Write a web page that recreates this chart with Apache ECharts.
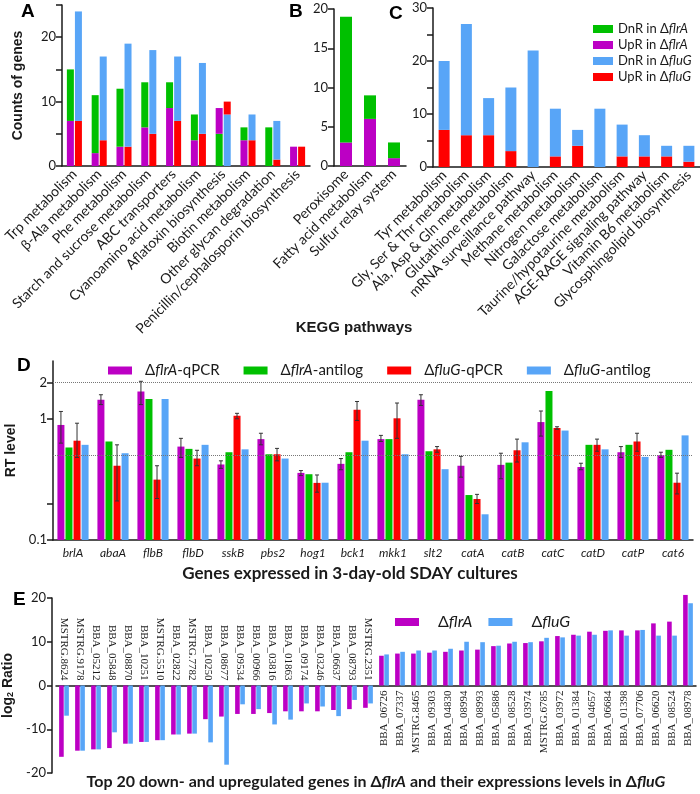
<!DOCTYPE html>
<html>
<head>
<meta charset="utf-8">
<script src="https://cdn.jsdelivr.net/npm/echarts@6/dist/echarts.min.js"></script>
<style>
  html, body { margin: 0; padding: 0; background: #fff; }
  #main { width: 700px; height: 794px; }
</style>
</head>
<body>
<div id="main"></div>
<script>
// ---- panel A: KEGG pathways shared by both mutants
const pathA = ['Trp metabolism', 'β-Ala metabolism', 'Phe metabolism', 'Starch and sucrose metabolism',
  'ABC transporters', 'Cyanoamino acid metabolism', 'Aflatoxin biosynthesis', 'Biotin metabolism',
  'Other glycan degradation', 'Penicillin/cephalosporin biosynthesis'];
const dnFlrA_A = [15, 11, 12, 13, 13, 8, 5, 6, 6, 0];
const upFlrA_A = [7, 2, 3, 6, 9, 4, 9, 4, 0, 3];
const dnFluG_A = [24, 17, 19, 18, 17, 16, 8, 8, 7, 0];
const upFluG_A = [7, 4, 3, 5, 7, 5, 10, 4, 1, 3];

// ---- panel B: flrA only
const pathB = ['Peroxisome', 'Fatty acid metabolism', 'Sulfur relay system'];
const dnFlrA_B = [19, 9, 3];
const upFlrA_B = [3, 6, 1];

// ---- panel C: fluG only
const pathC = ['Tyr metabolism', 'Gly, Ser & Thr metabolism', 'Ala, Asp & Gln metabolism',
  'Glutathione metabolism', 'mRNA surveillance pathway', 'Methane metabolism', 'Nitrogen metabolism',
  'Galactose metabolism', 'Taurine/hypotaurine metabolism', 'AGE-RAGE signaling pathway',
  'Vitamin B6 metabolism', 'Glycosphingolipid biosynthesis'];
const dnFluG_C = [20, 27, 13, 15, 22, 11, 7, 11, 8, 6, 4, 4];
const upFluG_C = [7, 6, 6, 3, 0, 2, 4, 0, 2, 2, 2, 1];

// ---- panel D: RT level (qPCR vs antilog of RNA-seq)
const genesD = ['brlA', 'abaA', 'flbB', 'flbD', 'sskB', 'pbs2', 'hog1', 'bck1', 'mkk1', 'slt2',
  'catA', 'catB', 'catC', 'catD', 'catP', 'cat6'];
const qFlrA = [0.89, 1.44, 1.68, 0.59, 0.42, 0.68, 0.358, 0.425, 0.68, 1.44, 0.41, 0.417, 0.94, 0.40, 0.53, 0.50];
const errFlrA = [[0.63, 1.15], [1.31, 1.58], [1.31, 2.04], [0.48, 0.69], [0.39, 0.45], [0.61, 0.76],
  [0.34, 0.374], [0.38, 0.47], [0.65, 0.73], [1.29, 1.58], [0.33, 0.49], [0.32, 0.52],
  [0.72, 1.16], [0.38, 0.43], [0.48, 0.59], [0.48, 0.53]];
const antiFlrA = [0.58, 0.65, 1.46, 0.565, 0.53, 0.51, 0.349, 0.53, 0.68, 0.54, 0.235, 0.435, 1.70, 0.61, 0.61, 0.555];
const qFluG = [0.66, 0.41, 0.315, 0.47, 1.06, 0.51, 0.296, 1.19, 1.01, 0.56, 0.218, 0.55, 0.84, 0.61, 0.65, 0.297];
const errFluG = [[0.48, 0.92], [0.21, 0.61], [0.22, 0.41], [0.41, 0.55], [1.0, 1.11], [0.45, 0.57],
  [0.248, 0.344], [0.97, 1.39], [0.69, 1.35], [0.53, 0.59], [0.2, 0.238], [0.44, 0.68],
  [0.82, 0.86], [0.54, 0.68], [0.54, 0.76], [0.24, 0.356]];
const antiFluG = [0.61, 0.52, 1.46, 0.61, 0.56, 0.47, 0.297, 0.66, 0.51, 0.384, 0.163, 0.64, 0.80, 0.56, 0.485, 0.73];
const refLines = [2, 0.5];

// ---- panel E: top 20 down- and upregulated genes
const genesE = ['MSTRG.8624', 'MSTRG.9178', 'BBA_05212', 'BBA_05848', 'BBA_08870', 'BBA_10251',
  'MSTRG.5510', 'BBA_02822', 'MSTRG.7782', 'BBA_10250', 'BBA_08677', 'BBA_09534', 'BBA_00966',
  'BBA_03816', 'BBA_01863', 'BBA_09174', 'BBA_03246', 'BBA_06637', 'BBA_08793', 'MSTRG.2351',
  'BBA_06726', 'BBA_07337', 'MSTRG.8465', 'BBA_09303', 'BBA_04830', 'BBA_08994', 'BBA_08993',
  'BBA_05886', 'BBA_08528', 'BBA_03974', 'MSTRG.6785', 'BBA_03972', 'BBA_01384', 'BBA_04657',
  'BBA_06684', 'BBA_01398', 'BBA_07706', 'BBA_06620', 'BBA_08524', 'BBA_08978'];
const ratioFlrA = [-16.3, -14.9, -14.6, -14.3, -13.3, -12.9, -12.5, -11.2, -11.0, -7.7, -7.1, -6.5, -6.5,
  -6.3, -5.9, -5.9, -5.9, -5.6, -5.4, -5.1,
  6.8, 7.3, 7.3, 7.5, 7.7, 8.0, 8.2, 9.0, 9.6, 9.7, 10.1, 11.3, 11.6, 12.3, 12.5, 12.6, 12.6, 14.2, 14.6, 20.7];
const ratioFluG = [-6.9, -14.9, -14.6, -10.7, -13.3, -12.9, -12.5, -11.2, -11.0, -13.0, -18.1, -4.3, -5.4,
  -8.9, -7.8, -4.1, -4.8, -7.0, -3.3, -4.1,
  7.1, 7.7, 8.0, 8.0, 8.4, 10.0, 9.9, 9.1, 10.0, 9.9, 10.9, 11.0, 11.4, 11.6, 12.6, 11.4, 12.7, 11.4, 11.4, 18.8];

const GREEN = '#00c000', PURPLE = '#bc00c4', BLUE = '#58a5f7', RED = '#ff0000';
const SANS = 'Lato', ARIAL = 'Liberation Sans', SERIF = 'Liberation Serif';
const INK = '#1a1a1a';

const nDnFlrA = 'DnR in ΔflrA', nUpFlrA = 'UpR in ΔflrA', nDnFluG = 'DnR in ΔfluG', nUpFluG = 'UpR in ΔfluG';

// bars are drawn overlapped, the shorter one in front -> stack the short part and the remainder
function overlap(dn, up, dnColor, upColor) {
  const low = [], high = [];
  dn.forEach(function(d, i) {
    const u = up[i];
    const dnFront = d < u;
    low.push({ value: Math.min(d, u), itemStyle: { color: dnFront ? dnColor : upColor } });
    high.push({ value: Math.abs(d - u), itemStyle: { color: dnFront ? upColor : dnColor } });
  });
  return [low, high];
}

const italic = function(name) { return name.replace(/(flrA|fluG)/, '{i|$1}'); };

function catAxis(grid, data, rotate) {
  return {
    type: 'category', gridIndex: grid, data: data,
    axisLine: { lineStyle: { color: INK, width: 1.5 } },
    axisTick: { alignWithLabel: true, length: 5, lineStyle: { color: INK, width: 1.5 } },
    axisLabel: { interval: 0, rotate: rotate, margin: 6, color: INK, fontFamily: SANS, fontSize: 14 }
  };
}
function valAxis(grid, max, labels, ticks) {
  return {
    type: 'value', gridIndex: grid, min: 0, max: max,
    axisLine: { show: true, lineStyle: { color: INK, width: 1.5 } },
    axisTick: { show: true, length: 6, customValues: ticks, lineStyle: { color: INK, width: 1.5 } },
    axisLabel: { customValues: labels, color: INK, fontFamily: SANS, fontSize: 13, margin: 6 },
    splitLine: { show: false }
  };
}
// gene names of panel E, written upright next to the zero line
function geneLabelAxis(grid, position, keep) {
  return {
    type: 'category', gridIndex: grid, data: genesE, position: position,
    axisLine: { show: false, onZero: false },
    axisTick: { show: false },
    axisLabel: {
      interval: 0, rotate: 90, margin: 5, color: INK, fontFamily: SERIF, fontSize: 11,
      formatter: function(v, i) { return keep(i) ? v : ''; }
    }
  };
}

const [aFlrLow, aFlrHigh] = overlap(dnFlrA_A, upFlrA_A, GREEN, PURPLE);
const [aFluLow, aFluHigh] = overlap(dnFluG_A, upFluG_A, BLUE, RED);
const [bLow, bHigh] = overlap(dnFlrA_B, upFlrA_B, GREEN, PURPLE);
const [cLow, cHigh] = overlap(dnFluG_C, upFluG_C, BLUE, RED);

// panel D bar geometry (px), used to place error bars on their bars
const BAR_D = 7, GAP_D = 1.05;
function errSeries(errs, slot, name) {
  const offset = (slot - 1.5) * (BAR_D + GAP_D);
  return {
    type: 'custom', name: name + ' SD', xAxisIndex: 3, yAxisIndex: 3, z: 5, silent: true,
    data: errs.map(function(e, i) { return [i, e[0], e[1]]; }),
    renderItem: function(params, api) {
      const lo = api.coord([api.value(0), api.value(1)]);
      const hi = api.coord([api.value(0), api.value(2)]);
      const x = lo[0] + offset;
      const st = { stroke: '#333', lineWidth: 1 };
      return {
        type: 'group', children: [
          { type: 'line', shape: { x1: x, y1: lo[1], x2: x, y2: hi[1] }, style: st },
          { type: 'line', shape: { x1: x - 2, y1: lo[1], x2: x + 2, y2: lo[1] }, style: st },
          { type: 'line', shape: { x1: x - 2, y1: hi[1], x2: x + 2, y2: hi[1] }, style: st }
        ]
      };
    }
  };
}

function dBar(name, data, color) {
  return { type: 'bar', name: name, xAxisIndex: 3, yAxisIndex: 3, data: data,
    barWidth: BAR_D, barGap: '15%', itemStyle: { color: color } };
}

const legendText = function(size, pad) {
  return {
    fontFamily: SANS, fontSize: size, color: INK, padding: [0, 0, 0, pad],
    rich: { i: { fontFamily: SANS, fontSize: size, fontStyle: 'italic', color: INK } }
  };
};

const E_TOP = 598, E_H = 175;

let myChart = echarts.init(document.getElementById('main'));
let option = {
  animation: false,
  backgroundColor: '#fff',
  grid: [
    { left: 62, top: 5, width: 248, height: 161, outerBoundsMode: 'none' },
    { left: 334, top: 9, width: 72, height: 157, outerBoundsMode: 'none' },
    { left: 433, top: 8, width: 267, height: 159, outerBoundsMode: 'none' },
    { left: 53, top: 361, width: 640, height: 179, outerBoundsMode: 'none' },
    { left: 56, top: E_TOP, width: 640, height: E_H, outerBoundsMode: 'none' },
    // halves of E split at the zero line: they only carry the gene names
    { left: 56, top: E_TOP + E_H / 2, width: 640, height: E_H / 2, outerBoundsMode: 'none' },
    { left: 56, top: E_TOP, width: 640, height: E_H / 2, outerBoundsMode: 'none' }
  ],
  legend: [
    {
      data: [
        { name: nDnFlrA, itemStyle: { color: GREEN } },
        { name: nUpFlrA, itemStyle: { color: PURPLE } },
        { name: nDnFluG, itemStyle: { color: BLUE } },
        { name: nUpFluG, itemStyle: { color: RED } }
      ],
      orient: 'vertical', left: 588, top: 16, itemWidth: 20, itemHeight: 8, itemGap: 0,
      icon: 'rect', selectedMode: false, formatter: italic,
      textStyle: Object.assign(legendText(13, 0), { lineHeight: 16 })
    },
    {
      data: ['ΔflrA-qPCR', 'ΔflrA-antilog', 'ΔfluG-qPCR', 'ΔfluG-antilog'],
      left: 103, top: 358, itemWidth: 24, itemHeight: 8, itemGap: 24,
      icon: 'rect', selectedMode: false, formatter: italic, textStyle: legendText(15, 8)
    },
    {
      data: ['ΔflrA', 'ΔfluG'],
      left: 390, top: 609, itemWidth: 24, itemHeight: 8, itemGap: 16,
      icon: 'rect', selectedMode: false, formatter: italic, textStyle: legendText(16, 14)
    }
  ],
  xAxis: [
    catAxis(0, pathA, 45),
    catAxis(1, pathB, 45),
    catAxis(2, pathC, 45),
    {
      type: 'category', gridIndex: 3, data: genesD,
      axisLine: { lineStyle: { color: INK, width: 1.5 } },
      axisTick: { show: false },
      axisLabel: { interval: 0, margin: 7, color: INK, fontFamily: SANS, fontSize: 12, fontStyle: 'italic' }
    },
    {
      type: 'category', gridIndex: 4, data: genesE,
      axisLine: { onZero: true, lineStyle: { color: INK, width: 1.5 } },
      axisTick: { show: false },
      axisLabel: { show: false }
    },
    geneLabelAxis(5, 'top', function(i) { return i < 20; }),
    geneLabelAxis(6, 'bottom', function(i) { return i >= 20; })
  ],
  yAxis: [
    Object.assign(valAxis(0, 25, [0, 10, 20], [0, 5, 10, 15, 20, 25]), {
      name: 'Counts of genes', nameLocation: 'middle', nameGap: 37,
      nameTextStyle: { fontFamily: ARIAL, fontWeight: 'bold', fontSize: 14, color: INK }
    }),
    valAxis(1, 20, [0, 5, 10, 15, 20], [0, 5, 10, 15, 20]),
    valAxis(2, 30, [0, 10, 20, 30], [0, 5, 10, 15, 20, 25, 30]),
    {
      type: 'log', gridIndex: 3, logBase: 10, min: 0.1, max: 3, startValue: 0.1,
      name: 'RT level', nameLocation: 'middle', nameGap: 27,
      nameTextStyle: { fontFamily: ARIAL, fontWeight: 'bold', fontSize: 14, color: INK },
      axisLine: { show: true, lineStyle: { color: INK, width: 1.5 } },
      axisTick: { show: true, length: 6, customValues: [0.1, 0.2, 1, 2], lineStyle: { color: INK, width: 1.5 } },
      axisLabel: { customValues: [0.1, 1, 2], color: INK, fontFamily: SANS, fontSize: 13, margin: 6 },
      splitLine: { show: false }, minorTick: { show: false }
    },
    {
      type: 'value', gridIndex: 4, min: -20, max: 20, interval: 10, offset: 4,
      name: 'log{s|2} Ratio', nameLocation: 'middle', nameGap: 29,
      nameTextStyle: {
        fontFamily: ARIAL, fontWeight: 'bold', fontSize: 14, color: INK,
        rich: { s: { fontFamily: ARIAL, fontWeight: 'bold', fontSize: 9, color: INK, verticalAlign: 'bottom', padding: [6, 0, 0, 0] } }
      },
      axisLine: { show: true, onZero: false, lineStyle: { color: INK, width: 1.5 } },
      axisTick: { show: true, length: 5, lineStyle: { color: INK, width: 1.5 } },
      axisLabel: { color: INK, fontFamily: SANS, fontSize: 13, margin: 6 },
      splitLine: { show: false }
    },
    { type: 'value', gridIndex: 5, show: false },
    { type: 'value', gridIndex: 6, show: false }
  ],
  series: [
    // A
    { type: 'bar', name: nUpFlrA, xAxisIndex: 0, yAxisIndex: 0, stack: 'aFlr', data: aFlrLow,
      barWidth: 7, barGap: '15%', itemStyle: { color: PURPLE } },
    { type: 'bar', name: nDnFlrA, xAxisIndex: 0, yAxisIndex: 0, stack: 'aFlr', data: aFlrHigh,
      itemStyle: { color: GREEN } },
    { type: 'bar', name: nUpFluG, xAxisIndex: 0, yAxisIndex: 0, stack: 'aFlu', data: aFluLow,
      barWidth: 7, itemStyle: { color: RED } },
    { type: 'bar', name: nDnFluG, xAxisIndex: 0, yAxisIndex: 0, stack: 'aFlu', data: aFluHigh,
      itemStyle: { color: BLUE } },
    // B
    { type: 'bar', name: nUpFlrA, xAxisIndex: 1, yAxisIndex: 1, stack: 'b', data: bLow,
      barWidth: 12, itemStyle: { color: PURPLE } },
    { type: 'bar', name: nDnFlrA, xAxisIndex: 1, yAxisIndex: 1, stack: 'b', data: bHigh,
      itemStyle: { color: GREEN } },
    // C
    { type: 'bar', name: nUpFluG, xAxisIndex: 2, yAxisIndex: 2, stack: 'c', data: cLow,
      barWidth: 11, itemStyle: { color: RED } },
    { type: 'bar', name: nDnFluG, xAxisIndex: 2, yAxisIndex: 2, stack: 'c', data: cHigh,
      itemStyle: { color: BLUE } },
    // D
    Object.assign(dBar('ΔflrA-qPCR', qFlrA, PURPLE), {
      markLine: {
        silent: true, symbol: 'none', label: { show: false },
        lineStyle: { color: '#777', type: 'dotted', width: 1 },
        data: refLines.map(function(v) { return { yAxis: v }; })
      }
    }),
    dBar('ΔflrA-antilog', antiFlrA, GREEN),
    dBar('ΔfluG-qPCR', qFluG, RED),
    dBar('ΔfluG-antilog', antiFluG, BLUE),
    errSeries(errFlrA, 0, 'ΔflrA-qPCR'),
    errSeries(errFluG, 2, 'ΔfluG-qPCR'),
    // E
    { type: 'bar', name: 'ΔflrA', xAxisIndex: 4, yAxisIndex: 4, data: ratioFlrA, clip: false,
      barWidth: 4.6, barGap: '12%', itemStyle: { color: PURPLE } },
    { type: 'bar', name: 'ΔfluG', xAxisIndex: 4, yAxisIndex: 4, data: ratioFluG, clip: false,
      barWidth: 4.6, itemStyle: { color: BLUE } }
  ],
  graphic: [
    { type: 'text', left: 21, top: 2, style: { text: 'A', font: 'bold 19px "Liberation Sans"', fill: '#000' } },
    { type: 'text', left: 289, top: 2, style: { text: 'B', font: 'bold 19px "Liberation Sans"', fill: '#000' } },
    { type: 'text', left: 389, top: 4, style: { text: 'C', font: 'bold 19px "Liberation Sans"', fill: '#000' } },
    { type: 'text', left: 17, top: 356, style: { text: 'D', font: 'bold 19px "Liberation Sans"', fill: '#000' } },
    { type: 'text', left: 13, top: 590, style: { text: 'E', font: 'bold 19px "Liberation Sans"', fill: '#000' } },
    { type: 'text', x: 354, y: 328, style: { text: 'KEGG pathways', font: 'bold 15px "Liberation Sans"',
      fill: INK, align: 'center', verticalAlign: 'middle' } },
    { type: 'text', x: 350, y: 574, style: { text: 'Genes expressed in 3-day-old SDAY cultures',
      font: 'bold 17px Lato', fill: INK, align: 'center', verticalAlign: 'middle' } },
    { type: 'text', x: 376, y: 782, style: {
      text: 'Top 20 down- and upregulated genes in Δ{i|flrA} and their expressions levels in Δ{i|fluG}',
      font: 'bold 16px Lato', fill: INK, align: 'center', verticalAlign: 'middle',
      rich: { i: { fontFamily: SANS, fontWeight: 'bold', fontStyle: 'italic', fontSize: 16, fill: INK } } } }
  ]
};
myChart.setOption(option);
window.addEventListener('resize', function() {
  myChart.resize();
});
</script>
</body>
</html>
